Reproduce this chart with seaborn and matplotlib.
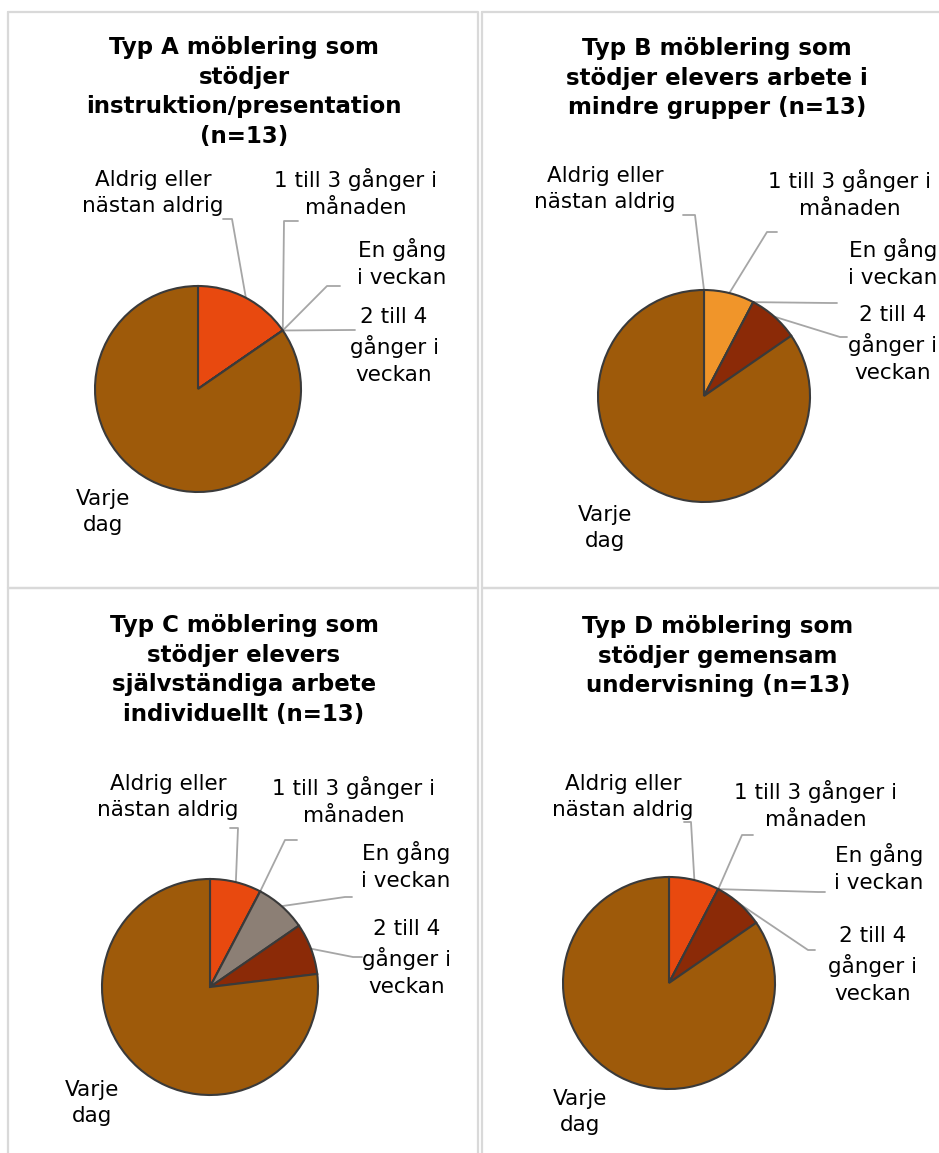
import numpy as np
import matplotlib.pyplot as plt
import seaborn as sns

# svarskategorier (same order in every pie, clockwise from the top)
categories = ["Aldrig eller\nnästan aldrig", "1 till 3 gånger i\nmånaden",
              "En gång\ni veckan", "2 till 4\ngånger i\nveckan", "Varje\ndag"]

titles = ["Typ A möblering som\nstödjer\ninstruktion/presentation\n(n=13)",
          "Typ B möblering som\nstödjer elevers arbete i\nmindre grupper (n=13)",
          "Typ C möblering som\nstödjer elevers\nsjälvständiga arbete\nindividuellt (n=13)",
          "Typ D möblering som\nstödjer gemensam\nundervisning (n=13)"]

# antal svar per kategori
typ_a = [2, 0, 0, 0, 11]
typ_b = [0, 1, 0, 1, 11]
typ_c = [1, 0, 1, 1, 10]
typ_d = [1, 0, 0, 1, 11]

colors = ["#E8490F", "#F0952A", "#8C7F75", "#8B2A07", "#9E5A0A"]

W, H = 939, 1153

sns.set_theme(style="white")
plt.rcParams['font.family'] = ['DejaVu Sans']
palette = sns.color_palette(colors)

def fy(y):
    # picture coords (y down) -> axes coords (y up)
    return H - y

# layout of each panel, in pixel coords of the picture
panels = [
    dict(data=typ_a, box=(8, 12, 478, 588), center=(198, 389), r=103,
         title=(244, 92),
         labels=[(153, 193), (356, 193), (402, 263), (394, 346), (103, 512)],
         leaders=[((223, 219), (232, 219)), ((298, 221), (284, 221)),
                  ((340, 286), (327, 286)), ((355, 330), (350, 330))]),
    dict(data=typ_b, box=(482, 12, 960, 588), center=(704, 396), r=106,
         title=(717, 78),
         labels=[(605, 189), (850, 194), (893, 263), (893, 344), (605, 528)],
         leaders=[((683, 215), (695, 215)), ((777, 232), (767, 232)),
                  ((837, 303), (830, 303)), ((847, 337), (840, 337))]),
    dict(data=typ_c, box=(8, 588, 478, 1180), center=(210, 987), r=108,
         title=(244, 670),
         labels=[(168, 797), (354, 801), (406, 866), (407, 958), (92, 1103)],
         leaders=[((230, 828), (238, 828)), ((297, 840), (285, 840)),
                  ((352, 897), (345, 897)), ((362, 957), (353, 957))]),
    dict(data=typ_d, box=(482, 588, 960, 1180), center=(669, 983), r=106,
         title=(718, 656),
         labels=[(623, 797), (816, 805), (879, 868), (873, 965), (580, 1112)],
         leaders=[((684, 822), (691, 822)), ((753, 835), (742, 835)),
                  ((825, 892), (818, 892)), ((815, 950), (808, 950))]),
]

fig = plt.figure(figsize=(W / 100, H / 100), dpi=100)
ax = fig.add_axes([0, 0, 1, 1])

for p, title in zip(panels, titles):
    x0, y0, x1, y1 = p['box']
    ax.plot([x0, x1, x1, x0, x0], [fy(y0), fy(y0), fy(y1), fy(y1), fy(y0)],
            color="#D9D9D9", lw=1.6, zorder=1)

    cx, cy = p['center']
    wedges, _ = ax.pie(p['data'], colors=palette, startangle=90,
                       counterclock=False, radius=p['r'],
                       center=(cx, fy(cy)), frame=True,
                       wedgeprops=dict(edgecolor="#3A3A3A", linewidth=1.5))

    ax.text(p['title'][0], fy(p['title'][1]), title, ha='center', va='center',
            fontsize=16.5, fontweight='bold', linespacing=1.36, color="#000000")

    for i, (lab, pos) in enumerate(zip(categories, p['labels'])):
        ax.text(pos[0], fy(pos[1]), lab, ha='center', va='center',
                multialignment='center', fontsize=15.5, linespacing=1.42,
                color="#000000")
        if i < 4:
            w = wedges[i]
            ang = np.deg2rad((w.theta1 + w.theta2) / 2)
            rx = cx + p['r'] * np.cos(ang)
            ry = fy(cy) + p['r'] * np.sin(ang)
            (a, e) = p['leaders'][i]
            ax.plot([a[0], e[0], rx], [fy(a[1]), fy(e[1]), ry],
                    color="#A6A6A6", lw=1.3, zorder=0.5)

ax.set_xlim(0, W)
ax.set_ylim(0, H)
ax.set_aspect('equal')
ax.axis('off')

fig.savefig("out.png", dpi=100, facecolor="white")
